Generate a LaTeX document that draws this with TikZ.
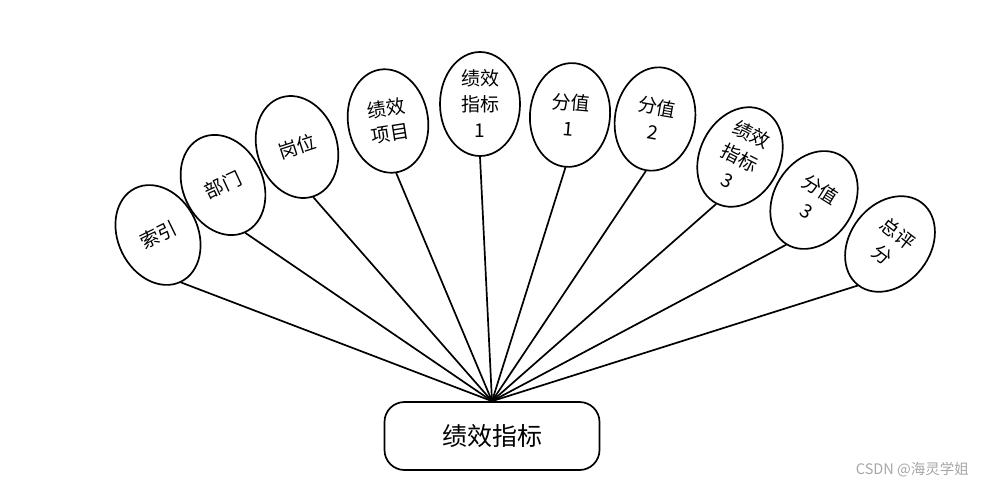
\documentclass[tikz,border=0pt]{standalone}
\usepackage{fontspec}
\setmainfont{Noto Sans CJK SC}
\usetikzlibrary{shapes.geometric}

\tikzset{
  attr/.style={draw, ellipse, inner sep=0pt, minimum width=80, minimum height=104,
    align=center, font=\fontsize{19}{26}\selectfont},
  entity/.style={draw, rectangle, rounded corners=20, minimum width=215, minimum height=68,
    font=\fontsize{25}{30}\selectfont},
}

\begin{document}
\begin{tikzpicture}[line width=1.7pt, line cap=round, line join=round, x=1pt, y=-1pt]
  \useasboundingbox (0,0) rectangle (987,487);
  \node[entity] (jxzb) at (492,436) {绩效指标};

  \node[attr, rotate=26] (suoyin) at (158,235) {索引};
  \node[attr, rotate=25] (bumen) at (223,185) {部门};
  \node[attr, rotate=18] (gangwei) at (297,147) {岗位};
  \node[attr, rotate=9] (xiangmu) at (388,121) {绩效\\项目};
  \node[attr] (zhibiao1) at (480,104) {绩效\\指标\\1};
  \node[attr, rotate=-5] (fenzhi1) at (570,115) {分值\\1};
  \node[attr, rotate=-10] (fenzhi2) at (655,119) {分值\\2};
  \node[attr, rotate=-27] (zhibiao3) at (740,157) {绩效\\指标\\3};
  \node[attr, rotate=-32] (fenzhi3) at (814,200) {分值\\3};
  \node[attr, rotate=-38] (zongpingfen) at (890,244) {总评\\分};

  % lines to the box
  \foreach \n in {suoyin,bumen,gangwei,xiangmu,zhibiao1,fenzhi1,fenzhi2,zhibiao3,fenzhi3,zongpingfen}
    \draw (jxzb.north) -- (\n.south);

  \node[text=gray!70, font=\fontsize{14.5}{17}\selectfont, anchor=east] (mark) at (973,470) {CSDN @海灵学姐};
\end{tikzpicture}
\end{document}
